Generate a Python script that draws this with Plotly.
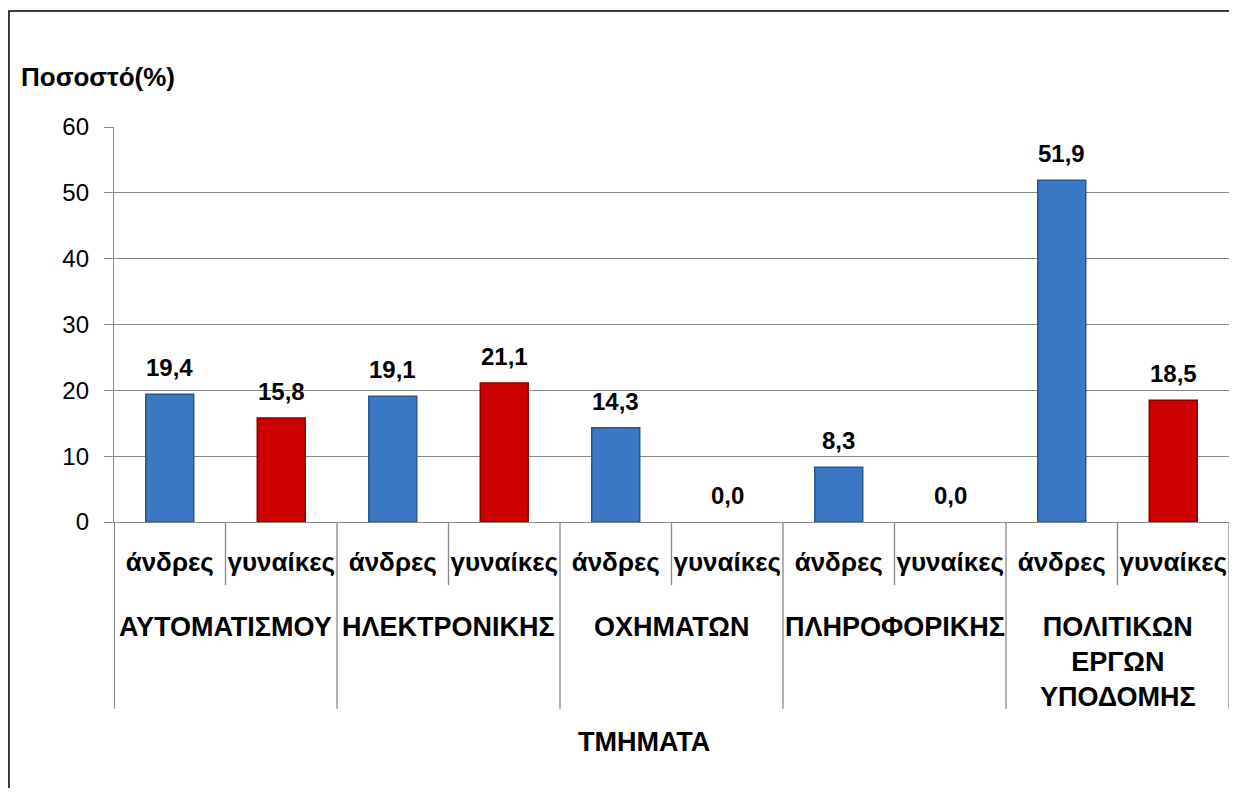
import plotly.graph_objects as go

departments = ["ΑΥΤΟΜΑΤΙΣΜΟΥ", "ΗΛΕΚΤΡΟΝΙΚΗΣ", "ΟΧΗΜΑΤΩΝ", "ΠΛΗΡΟΦΟΡΙΚΗΣ",
               "ΠΟΛΙΤΙΚΩΝ<br>ΕΡΓΩΝ<br>ΥΠΟΔΟΜΗΣ"]
sexes = ["άνδρες", "γυναίκες"]
men = [19.4, 19.1, 14.3, 8.3, 51.9]
women = [15.8, 21.1, 0.0, 0.0, 18.5]
y_ticks = [0, 10, 20, 30, 40, 50, 60]

FONT = "Liberation Sans, Arial, sans-serif"
GRAY = "#898989"

# each department takes two slots: men then women
men_x = [2 * i for i in range(len(departments))]
women_x = [2 * i + 1 for i in range(len(departments))]
slot_x = sorted(men_x + women_x)
slot_text = [sexes[x % 2] for x in slot_x]

fig = go.Figure()
fig.add_trace(go.Bar(x=men_x, y=men, width=0.43,
                     marker=dict(color="#3b78c4",
                                 line=dict(color="#28558c", width=[1.5 if v > 0 else 0 for v in men]))))
fig.add_trace(go.Bar(x=women_x, y=women, width=0.43,
                     marker=dict(color="#cc0000",
                                 line=dict(color="#8a0000", width=[1.5 if v > 0 else 0 for v in women]))))

# value labels
for x, v in zip(men_x + women_x, men + women):
    fig.add_annotation(x=x, y=v, text=f"{v:.1f}".replace(".", ","), showarrow=False,
                       yanchor="bottom", yshift=11,
                       font=dict(family=FONT, size=24, color="black", weight="bold"))

# department labels under the sex labels
for i, d in enumerate(departments):
    fig.add_annotation(x=2 * i + 0.5, y=-0.222, yref="paper", text=d, showarrow=False,
                       yanchor="top", align="center",
                       font=dict(family=FONT, size=27, color="black", weight="bold"))

# dividers: long ones between departments, short ones between sexes
for i in range(len(departments) + 1):
    fig.add_shape(type="line", x0=2 * i - 0.5, x1=2 * i - 0.5, y0=0, y1=-0.473,
                  yref="paper", line=dict(color=GRAY, width=2 if i == 0 else 1.3))
for i in range(len(departments)):
    fig.add_shape(type="line", x0=2 * i + 0.5, x1=2 * i + 0.5, y0=0, y1=-0.16,
                  yref="paper", line=dict(color=GRAY, width=1.3))

# chart border
fig.add_shape(type="rect", xref="paper", yref="paper", x0=-0.0942, y0=-1.0, x1=1.05, y1=1.2937,
              line=dict(color="black", width=1.5))

fig.add_annotation(xref="paper", yref="paper", x=-0.0852, y=1.127, text="Ποσοστό(%)",
                   showarrow=False, xanchor="left", yanchor="middle",
                   font=dict(family=FONT, size=26, color="black", weight="bold"))
fig.add_annotation(xref="paper", yref="paper", x=0.4753, y=-0.557, text="ΤΜΗΜΑΤΑ",
                   showarrow=False, xanchor="center", yanchor="middle",
                   font=dict(family=FONT, size=27, color="black", weight="bold"))

fig.update_layout(
    width=1221, height=780,
    margin=dict(l=106, r=0, t=119, b=266),
    paper_bgcolor="white", plot_bgcolor="white",
    showlegend=False, barmode="overlay",
    xaxis=dict(range=[-0.5, 9.5], tickvals=slot_x, ticktext=slot_text, ticks="",
               showgrid=False, zeroline=False, showline=True, linecolor=GRAY, linewidth=1.3,
               ticklabelstandoff=17,
               tickfont=dict(family=FONT, size=26, color="black", weight="bold")),
    yaxis=dict(range=[0, 60], tickvals=y_ticks, ticks="outside", ticklen=9, tickcolor=GRAY,
               tickwidth=1.3, showline=True, linecolor=GRAY, linewidth=1.3,
               showgrid=True, gridcolor=GRAY, gridwidth=1.3, zeroline=False,
               ticklabelstandoff=10,
               tickfont=dict(family=FONT, size=24, color="black")),
)

fig.write_html("out.html")
